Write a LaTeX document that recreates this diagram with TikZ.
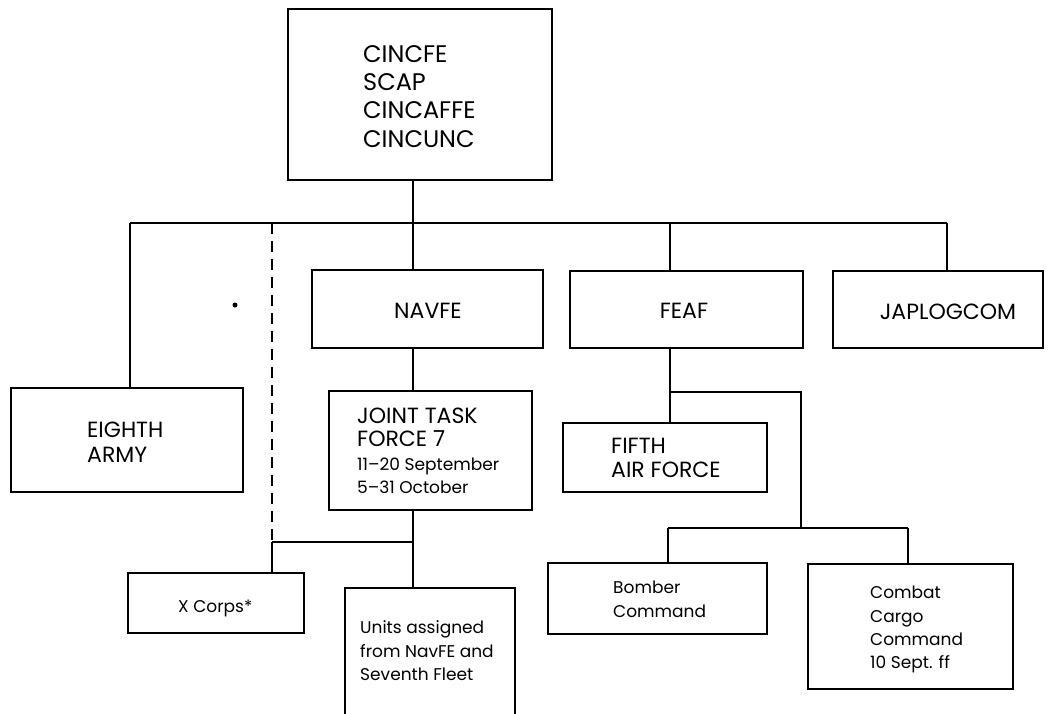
\documentclass[tikz,border=0pt]{standalone}
\usepackage{fontspec}
\setmainfont{Poppins}
\begin{document}
\begin{tikzpicture}[x=1pt,y=-1pt,
  box/.style={draw,line width=1.3pt,inner sep=0pt,outer sep=0pt},
  conn/.style={line width=1.3pt},
  big/.style={anchor=base west,inner sep=0pt,font=\fontsize{24}{28}\selectfont},
  mid/.style={anchor=base west,inner sep=0pt,font=\fontsize{22}{26}\selectfont},
  midc/.style={anchor=base,inner sep=0pt,font=\fontsize{22}{26}\selectfont},
  small/.style={anchor=base west,inner sep=0pt,font=\fontsize{17}{20}\selectfont}]
\useasboundingbox (0,0) rectangle (1055,713);
% boxes
\node[box,minimum width=264,minimum height=171] (top) at (420,94.5) {};
\node[box,minimum width=232,minimum height=104] (eighth) at (127,440) {};
\node[box,minimum width=231,minimum height=78] (navfe) at (427.5,309) {};
\node[box,minimum width=233,minimum height=77] (feaf) at (686.5,309.5) {};
\node[box,minimum width=210,minimum height=77] (japlog) at (938,309.5) {};
\node[box,minimum width=203,minimum height=119] (jtf) at (430.5,450.5) {};
\node[box,minimum width=204,minimum height=69] (fifth) at (665,457.5) {};
\node[box,minimum width=176,minimum height=60] (xcorps) at (216,603) {};
\node[box,minimum width=170,minimum height=150] (units) at (430,663) {};
\node[box,minimum width=219,minimum height=71] (bomber) at (657.5,598.5) {};
\node[box,minimum width=205,minimum height=125] (combat) at (910.5,626.5) {};
% texts
\node[big] (t1) at (363,62) {CINCFE};
\node[big] (t2) at (363,90) {SCAP};
\node[big] (t3) at (363,118) {CINCAFFE};
\node[big] (t4) at (363,147) {CINCUNC};
\node[mid] (e1) at (87,437) {EIGHTH};
\node[mid] (e2) at (87,462) {ARMY};
\node[midc] (n1) at (428,318) {NAVFE};
\node[midc] (f1t) at (684,318) {FEAF};
\node[midc] (j1) at (948,319) {JAPLOGCOM};
\node[mid] (jt1) at (357,423) {JOINT TASK};
\node[mid] (jt2) at (357,446) {FORCE 7};
\node[small] (jt3) at (357,470) {11--20 September};
\node[small] (jt4) at (357,493) {5--31 October};
\node[mid] (fa1) at (611,453) {FIFTH};
\node[mid] (fa2) at (611,477) {AIR FORCE};
\node[small] (x1) at (178,612) {X Corps*};
\node[small] (u1) at (360,633) {Units assigned};
\node[small] (u2) at (360,657) {from NavFE and};
\node[small] (u3) at (360,680) {Seventh Fleet};
\node[small] (b1t) at (613,593) {Bomber};
\node[small] (b2t) at (613,617) {Command};
\node[small] (c1t) at (870,598) {Combat};
\node[small] (c2t) at (870,622) {Cargo};
\node[small] (c3t) at (870,645) {Command};
\node[small] (c4t) at (870,668) {10 Sept. ff};
% bus coordinates
\coordinate (c1) at (130,223);
\coordinate (c2) at (272,223);
\coordinate (c3) at (413,223);
\coordinate (c4) at (670,223);
\coordinate (c5) at (947,223);
\coordinate (xj) at (272,542);
\coordinate (fa) at (801,392);
\coordinate (fb) at (801,528);
\coordinate (g1) at (668,528);
\coordinate (g2) at (908,528);
% connectors
\draw[conn] (c1) -- (c5);
\draw[conn] (top.south -| c3) -- (c3);
\draw[conn] (c1) -- (c1 |- eighth.north);
\draw[conn] (c3) -- (c3 |- navfe.north);
\draw[conn] (c4) -- (c4 |- feaf.north);
\draw[conn] (c5) -- (c5 |- japlog.north);
\draw[conn,dash pattern=on 11pt off 7pt] (c2) -- (xj);
\draw[conn] (navfe.south -| c3) -- (c3 |- jtf.north);
\draw[conn] (jtf.south -| c3) -- (c3 |- units.north);
\draw[conn] (xj) -- (xj -| c3);
\draw[conn] (xj) -- (xj |- xcorps.north);
\draw[conn] (feaf.south -| c4) -- (c4 |- fifth.north);
\draw[conn] (fa -| c4) -- (fa) -- (fb);
\draw[conn] (g1) -- (g2);
\draw[conn] (g1) -- (g1 |- bomber.north);
\draw[conn] (g2) -- (g2 |- combat.north);
\fill (235,305) circle (2.5);
\end{tikzpicture}
\end{document}
